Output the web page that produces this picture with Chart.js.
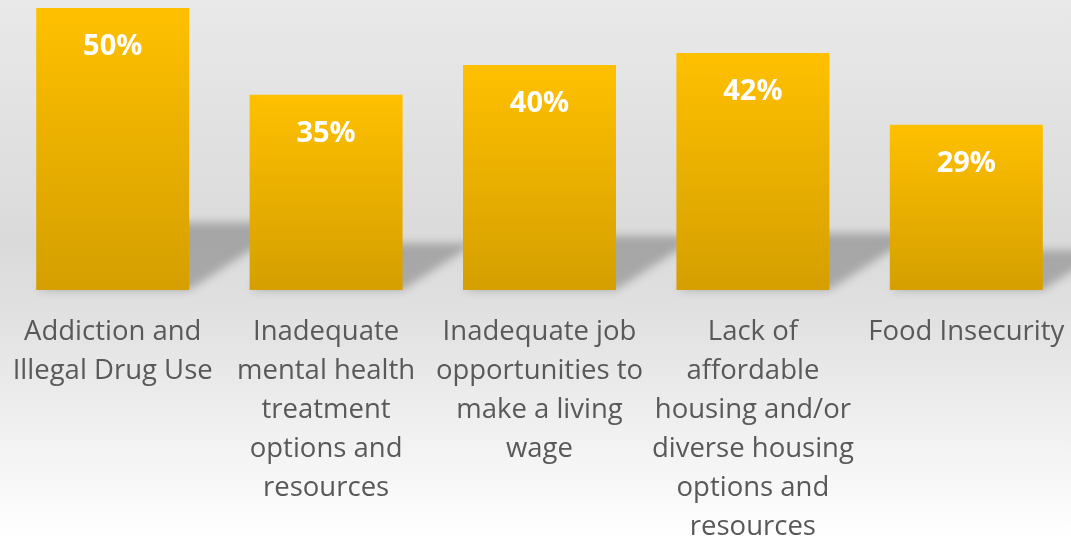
<!DOCTYPE html>
<html>
<head>
<meta charset="utf-8">
<script src="https://cdn.jsdelivr.net/npm/chart.js@4"></script>
<style>
  html, body { margin: 0; padding: 0; overflow: hidden; width: 1071px; height: 539px; }
  #wrap { position: relative; width: 1073px; height: 539px;
    background: linear-gradient(to bottom, #e9e9e9 0%, #dadada 45%, #e2e2e2 60%, #ffffff 100%); }
  canvas { display: block; }
</style>
</head>
<body>
<div id="wrap"><canvas id="c" width="1073" height="539"></canvas></div>
<script>
const categories = [
  ["Addiction and", "Illegal Drug Use"],
  ["Inadequate", "mental health", "treatment", "options and", "resources"],
  ["Inadequate job", "opportunities to", "make a living", "wage"],
  ["Lack of", "affordable", "housing and/or", "diverse housing", "options and", "resources"],
  ["Food Insecurity"]
];
const values = [50, 34.6, 39.9, 42, 29.3];
const valueLabels = ["50%", "35%", "40%", "42%", "29%"];

const barShadow = {
  id: 'barShadow',
  beforeDatasetsDraw(chart) {
    const ctx = chart.ctx;
    const meta = chart.getDatasetMeta(0);
    ctx.save();
    ctx.filter = 'blur(4px)';
    ctx.fillStyle = 'rgba(0,0,0,0.24)';
    meta.data.forEach(el => {
      const p = el.getProps(['x', 'y', 'base', 'width'], true);
      const h = p.base - p.y;
      const l = p.x - p.width / 2, r = p.x + p.width / 2;
      const dx = 0.37 * h, dy = 0.24 * h;
      ctx.beginPath();
      ctx.moveTo(l, p.base);
      ctx.lineTo(r, p.base);
      ctx.lineTo(r + dx, p.base - dy);
      ctx.lineTo(l + dx, p.base - dy);
      ctx.closePath();
      ctx.fill();
    });
    ctx.restore();
  }
};

const valueLabelPlugin = {
  id: 'valueLabels',
  afterDatasetsDraw(chart) {
    const ctx = chart.ctx;
    const meta = chart.getDatasetMeta(0);
    ctx.save();
    ctx.fillStyle = '#ffffff';
    ctx.font = 'bold 29px "Open Sans"';
    ctx.textAlign = 'center';
    ctx.textBaseline = 'middle';
    meta.data.forEach((el, i) => {
      const p = el.getProps(['x', 'y'], true);
      ctx.fillText(valueLabels[i], p.x, p.y + 39);
    });
    ctx.restore();
  }
};

new Chart(document.getElementById('c'), {
  type: 'bar',
  data: {
    labels: categories,
    datasets: [{
      data: values,
      backgroundColor(context) {
        const chart = context.chart;
        if (!chart.chartArea || context.dataIndex === undefined) return '#FFC000';
        const ys = chart.scales.y;
        const top = ys.getPixelForValue(values[context.dataIndex]);
        const base = ys.getPixelForValue(0);
        const g = chart.ctx.createLinearGradient(0, top, 0, base);
        g.addColorStop(0, '#FFC000');
        g.addColorStop(1, '#D49F00');
        return g;
      },
      borderWidth: 0,
      categoryPercentage: 1,
      barPercentage: 0.717
    }]
  },
  options: {
    responsive: false,
    animation: false,
    layout: { padding: { top: 8, left: 6, right: 0, bottom: 0 } },
    plugins: { legend: { display: false }, tooltip: { enabled: false } },
    scales: {
      y: { display: false, min: 0, max: 50 },
      x: {
        grid: { display: false, drawTicks: false },
        border: { display: false },
        afterFit(scale) {
          scale.height = 249;
          scale.paddingLeft = 0;
          scale.paddingRight = 0;
        },
        ticks: {
          color: '#595959',
          font: { family: '"Open Sans"', size: 27.5, lineHeight: 39 / 27.5 },
          padding: 23,
          maxRotation: 0,
          autoSkip: false
        }
      }
    }
  },
  plugins: [barShadow, valueLabelPlugin]
});
</script>
</body>
</html>
